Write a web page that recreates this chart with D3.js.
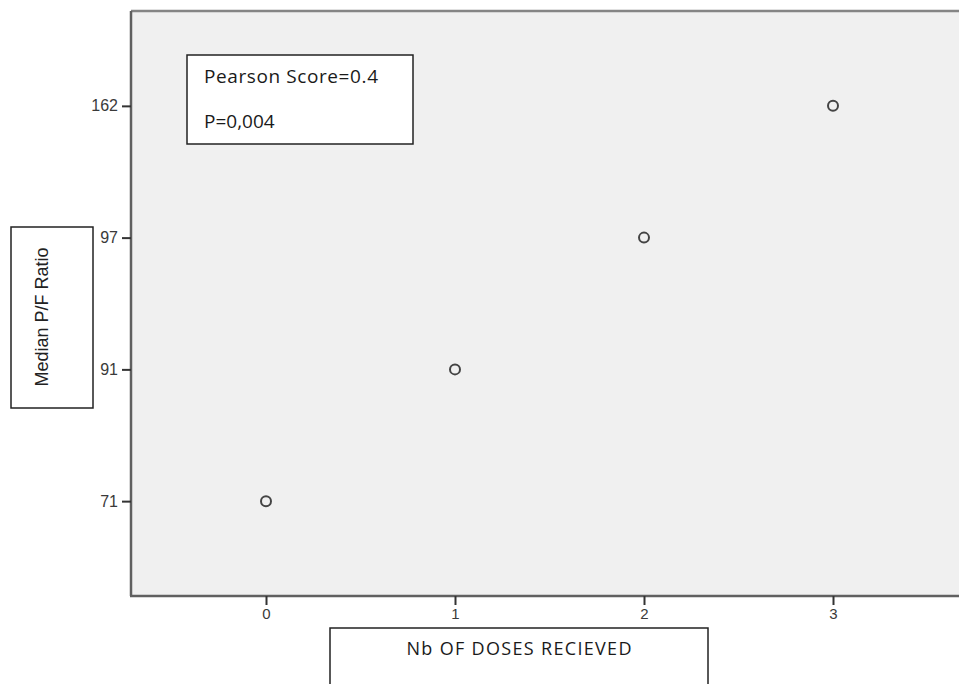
<!DOCTYPE html>
<html>
<head>
<meta charset="utf-8">
<script src="https://cdn.jsdelivr.net/npm/d3@7"></script>
<style>
  html, body { margin: 0; padding: 0; background: #ffffff; }
  svg { display: block; }
</style>
</head>
<body>
<svg id="chart" width="959" height="684"></svg>
<script>
// ---- data ----
const doseTicks = [0, 1, 2, 3];
const ratioCategories = ["71", "91", "97", "162"];
const doses = [0, 1, 2, 3];
const medianRatio = ["71", "91", "97", "162"];
const xTitle = "Nb OF DOSES RECIEVED";
const yTitle = "Median P/F Ratio";
const noteLines = ["Pearson Score=0.4", "P=0,004"];

// ---- layout ----
const W = 959, H = 684;
const plot = { left: 131, top: 11, right: 959, bottom: 596 };

const svg = d3.select("#chart");

const x = d3.scaleLinear().domain([0, 3]).range([266, 833]);
const y = d3.scalePoint().domain(ratioCategories).range([plot.bottom, plot.top]).padding(0.72);

// plot background
svg.append("rect")
  .attr("x", plot.left).attr("y", plot.top)
  .attr("width", plot.right - plot.left).attr("height", plot.bottom - plot.top)
  .attr("fill", "#f0f0f0");

// top frame line
svg.append("line")
  .attr("x1", plot.left).attr("x2", plot.right)
  .attr("y1", plot.top).attr("y2", plot.top)
  .attr("stroke", "#858585").attr("stroke-width", 2.5);

// y axis
const yAxis = svg.append("g")
  .attr("transform", `translate(${plot.left},0)`)
  .call(d3.axisLeft(y).tickSize(9).tickPadding(4));
yAxis.select(".domain").attr("stroke", "#606060").attr("stroke-width", 2.5)
  .attr("d", `M0,${plot.top}V${plot.bottom}`);
yAxis.selectAll(".tick line").attr("stroke", "#333").attr("stroke-width", 2);
yAxis.selectAll(".tick text")
  .attr("font-family", "Liberation Sans, Arial, sans-serif")
  .style("font-size", "16px").attr("fill", "#3a3a3a");

// x axis
const xAxis = svg.append("g")
  .attr("transform", `translate(0,${plot.bottom})`)
  .call(d3.axisBottom(x).tickValues(doseTicks).tickFormat(d3.format("d")).tickSize(9).tickPadding(3));
xAxis.select(".domain").attr("stroke", "#606060").attr("stroke-width", 2.5)
  .attr("d", `M${plot.left - 1},0H${plot.right}`);
xAxis.selectAll(".tick line").attr("stroke", "#333").attr("stroke-width", 2);
xAxis.selectAll(".tick text")
  .attr("font-family", "Liberation Sans, Arial, sans-serif")
  .style("font-size", "15px").attr("fill", "#3a3a3a");

// points
svg.append("g").selectAll("circle")
  .data(doses.map((d, i) => ({ dose: d, ratio: medianRatio[i] })))
  .join("circle")
  .attr("cx", d => x(d.dose))
  .attr("cy", d => y(d.ratio))
  .attr("r", 5)
  .attr("fill", "none")
  .attr("stroke", "#444")
  .attr("stroke-width", 2);

// annotation box
const note = svg.append("g");
note.append("rect")
  .attr("x", 187).attr("y", 55).attr("width", 226).attr("height", 89)
  .attr("fill", "#ffffff").attr("stroke", "#222").attr("stroke-width", 1.5);
note.selectAll("text").data(noteLines).join("text")
  .attr("x", 204)
  .attr("y", (d, i) => 83 + i * 45)
  .attr("font-family", "Open Sans, sans-serif")
  .attr("font-size", 19)
  .attr("fill", "#1a1a1a")
  .attr("textLength", (d, i) => i === 0 ? 174 : null)
  .attr("lengthAdjust", "spacing")
  .text(d => d);

// y title box
svg.append("rect")
  .attr("x", 11).attr("y", 227).attr("width", 82).attr("height", 181)
  .attr("fill", "#ffffff").attr("stroke", "#222").attr("stroke-width", 1.5);
svg.append("text")
  .attr("transform", "translate(48,317) rotate(-90)")
  .attr("text-anchor", "middle")
  .attr("font-family", "Liberation Sans, Arial, sans-serif")
  .attr("font-size", 18)
  .attr("fill", "#222")
  .text(yTitle);

// x title box
svg.append("rect")
  .attr("x", 330).attr("y", 628).attr("width", 378).attr("height", 70)
  .attr("fill", "#ffffff").attr("stroke", "#222").attr("stroke-width", 1.5);
svg.append("text")
  .attr("x", 519).attr("y", 655)
  .attr("text-anchor", "middle")
  .attr("font-family", "Open Sans, sans-serif")
  .attr("font-size", 18)
  .attr("fill", "#1a1a1a")
  .attr("textLength", 225)
  .attr("lengthAdjust", "spacing")
  .text(xTitle);
</script>
</body>
</html>
